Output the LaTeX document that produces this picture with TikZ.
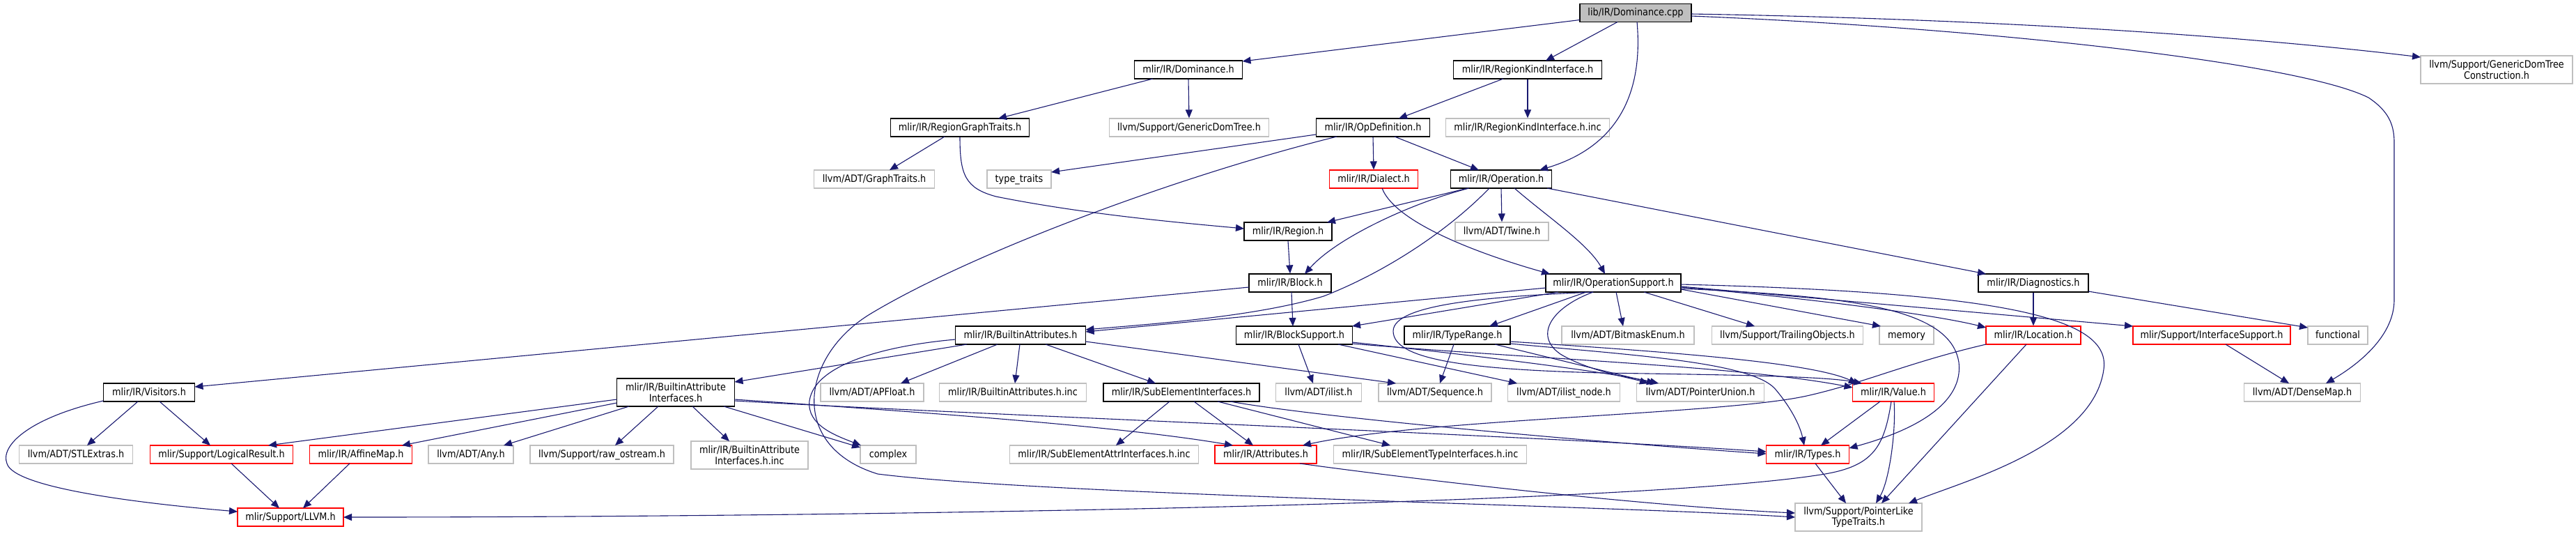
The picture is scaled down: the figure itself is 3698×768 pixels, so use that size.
\documentclass[tikz,border=0pt]{standalone}
\usepackage{fontspec}
\setmainfont{DejaVu Sans}[FakeStretch=0.88]
\usetikzlibrary{arrows.meta,calc}
\definecolor{edgeblue}{RGB}{25,25,112}
\definecolor{extgray}{RGB}{191,191,191}
\definecolor{cppfill}{RGB}{191,191,191}
\begin{document}
\begin{tikzpicture}[x=0.5pt,y=-0.5pt,
 nbox/.style={draw, line width=0.6pt, fill=white, inner sep=0pt, minimum height=13pt, font=\fontsize{7.3pt}{7.6pt}\selectfont, text height=5.4pt, text depth=1.4pt},
 nbox2/.style={draw, line width=0.6pt, fill=white, inner sep=0pt, minimum height=20pt, align=center, font=\fontsize{7.3pt}{7.6pt}\selectfont},
 doc/.style={draw=black},
 ext/.style={draw=extgray},
 trunc/.style={draw=red},
 dep/.style={draw=edgeblue, line width=0.55pt, -{Triangle[length=6pt,width=5pt]}}
]
\useasboundingbox (0,0) rectangle (3698,768);
% nodes
\node[nbox,doc,fill=cppfill,minimum width=80pt] (cpp) at (2348,18.5) {lib/IR/Dominance.cpp};
\node[nbox,doc,minimum width=77.5pt] (domh) at (1706,100) {mlir/IR/Dominance.h};
\node[nbox,doc,minimum width=106.5pt] (rki) at (2193,100) {mlir/IR/RegionKindInterface.h};
\node[nbox2,ext,minimum width=109pt] (gdtc) at (3584,100) {llvm/Support/GenericDomTree\\Construction.h};
\node[nbox,doc,minimum width=99.5pt] (rgt) at (1378,183) {mlir/IR/RegionGraphTraits.h};
\node[nbox,ext,minimum width=114.5pt] (gdt) at (1707,183) {llvm/Support/GenericDomTree.h};
\node[nbox,doc,minimum width=81.5pt] (opdef) at (1971,183) {mlir/IR/OpDefinition.h};
\node[nbox,ext,minimum width=117.5pt] (rkiinc) at (2193,183) {mlir/IR/RegionKindInterface.h.inc};
\node[nbox,ext,minimum width=86.5pt] (graph) at (1255,257) {llvm/ADT/GraphTraits.h};
\node[nbox,ext,minimum width=46pt] (tt) at (1463,257) {type\_traits};
\node[nbox,trunc,minimum width=63.5pt] (dialect) at (1972,257) {mlir/IR/Dialect.h};
\node[nbox,doc,minimum width=72.5pt] (op) at (2155,257) {mlir/IR/Operation.h};
\node[nbox,doc,minimum width=63pt] (region) at (1849,332) {mlir/IR/Region.h};
\node[nbox,ext,minimum width=67pt] (twine) at (2156,332) {llvm/ADT/Twine.h};
\node[nbox,doc,minimum width=59pt] (block) at (1852,406) {mlir/IR/Block.h};
\node[nbox,doc,minimum width=97pt] (opsup) at (2316,406) {mlir/IR/OperationSupport.h};
\node[nbox,doc,minimum width=79pt] (diag) at (2919,406) {mlir/IR/Diagnostics.h};
\node[nbox,doc,minimum width=93.5pt] (battr) at (1465,481) {mlir/IR/BuiltinAttributes.h};
\node[nbox,doc,minimum width=83.5pt] (bsup) at (1858,481) {mlir/IR/BlockSupport.h};
\node[nbox,doc,minimum width=76pt] (trange) at (2092,481) {mlir/IR/TypeRange.h};
\node[nbox,ext,minimum width=95pt] (bitmask) at (2337,481) {llvm/ADT/BitmaskEnum.h};
\node[nbox,ext,minimum width=108.5pt] (trail) at (2566,481) {llvm/Support/TrailingObjects.h};
\node[nbox,ext,minimum width=39pt] (memory) at (2737,481) {memory};
\node[nbox,trunc,minimum width=68pt] (loc) at (2919,481) {mlir/IR/Location.h};
\node[nbox,trunc,minimum width=113pt] (isup) at (3175,481) {mlir/Support/InterfaceSupport.h};
\node[nbox,ext,minimum width=43pt] (func) at (3356,481) {functional};
\node[nbox,doc,minimum width=65.5pt] (visitors) at (214,563) {mlir/IR/Visitors.h};
\node[nbox2,doc,minimum width=84.5pt] (baint) at (970,563) {mlir/IR/BuiltinAttribute\\Interfaces.h};
\node[nbox,ext,minimum width=74pt] (apfloat) at (1252,563) {llvm/ADT/APFloat.h};
\node[nbox,ext,minimum width=105.5pt] (bainc) at (1454,563) {mlir/IR/BuiltinAttributes.h.inc};
\node[nbox,doc,minimum width=112pt] (subel) at (1696,563) {mlir/IR/SubElementInterfaces.h};
\node[nbox,ext,minimum width=61.5pt] (ilist) at (1893,563) {llvm/ADT/ilist.h};
\node[nbox,ext,minimum width=81pt] (seq) at (2060,563) {llvm/ADT/Sequence.h};
\node[nbox,ext,minimum width=80.5pt] (ilistnode) at (2245,563) {llvm/ADT/ilist\_node.h};
\node[nbox,ext,minimum width=91.5pt] (punion) at (2441,563) {llvm/ADT/PointerUnion.h};
\node[nbox,trunc,minimum width=58.5pt] (value) at (2718,563) {mlir/IR/Value.h};
\node[nbox,ext,minimum width=83.5pt] (densemap) at (3305,563) {llvm/ADT/DenseMap.h};
\node[nbox,ext,minimum width=81.5pt] (stlx) at (109,652) {llvm/ADT/STLExtras.h};
\node[nbox,trunc,minimum width=102.5pt] (lres) at (318,652) {mlir/Support/LogicalResult.h};
\node[nbox,trunc,minimum width=73.5pt] (affine) at (518,652) {mlir/IR/AffineMap.h};
\node[nbox,ext,minimum width=61pt] (any) at (676,652) {llvm/ADT/Any.h};
\node[nbox,ext,minimum width=103pt] (rawos) at (864,652) {llvm/Support/raw\_ostream.h};
\node[nbox2,ext,minimum width=84pt] (baiinc) at (1076,653) {mlir/IR/BuiltinAttribute\\Interfaces.h.inc};
\node[nbox,ext,minimum width=40pt] (complex) at (1275,652) {complex};
\node[nbox,ext,minimum width=135.5pt] (seainc) at (1585,652) {mlir/IR/SubElementAttrInterfaces.h.inc};
\node[nbox,trunc,minimum width=73pt] (attrs) at (1817,652) {mlir/IR/Attributes.h};
\node[nbox,ext,minimum width=138.5pt] (setinc) at (2053,652) {mlir/IR/SubElementTypeInterfaces.h.inc};
\node[nbox,trunc,minimum width=59.5pt] (types) at (2595,652) {mlir/IR/Types.h};
\node[nbox,trunc,minimum width=76pt] (llvmh) at (417,742) {mlir/Support/LLVM.h};
\node[nbox2,ext,minimum width=91pt] (plike) at (2668,742) {llvm/Support/PointerLike\\TypeTraits.h};
% edges
\draw[dep] ($(cpp)+(-80,10)$) -- ($(domh)+(77.5,-12)$);
\draw[dep] ($(cpp)+(-26,13)$) -- ($(rki)+(26,-13)$);
\draw[dep] ($(cpp)+(2,13)$) .. controls (2357,110) and (2340,205) .. ($(op)+(55,-13)$);
\draw[dep] ($(cpp)+(80,1.5)$) .. controls (2900,28) and (3250,55) .. ($(gdtc)+(-109,-18)$);
\draw[dep] ($(cpp)+(80,4.5)$) .. controls (2850,40) and (3300,90) .. (3400,140) .. controls (3430,160) and (3437,180) .. (3437,205) -- (3437,430) .. controls (3437,480) and (3390,520) .. ($(densemap)+(34,-13)$);
\draw[dep] ($(domh)+(-51,13)$) -- ($(rgt)+(55,-13)$);
\draw[dep] (domh.south) -- (gdt.north);
\draw[dep] ($(rki)+(-35,13)$) -- ($(opdef)+(37,-13)$);
\draw[dep] (rki.south) -- (rkiinc.north);
\draw[dep] ($(rgt)+(-22,13)$) -- ($(graph)+(22,-13)$);
\draw[dep] (rgt.south) .. controls (1378,250) and (1385,270) .. (1430,282) .. controls (1560,308) and (1700,320) .. ($(region)+(-63,-4)$);
\draw[dep] ($(opdef)+(-82,10)$) -- ($(tt)+(46,-10)$);
\draw[dep] (opdef.south) -- (dialect.north);
\draw[dep] ($(opdef)+(31,13)$) -- ($(op)+(-32,-13)$);
\draw[dep] ($(opdef)+(-52,13)$) .. controls (1700,250) and (1400,360) .. (1250,450) .. controls (1150,510) and (1130,640) .. (1260,680) .. controls (1500,710) and (2300,725) .. ($(plike)+(-91,0)$);
\draw[dep] ($(op)+(-48,13)$) -- ($(region)+(56,-13)$);
\draw[dep] ($(op)+(-46,13)$) .. controls (2030,290) and (1920,340) .. ($(block)+(21,-13)$);
\draw[dep] ($(op)+(-17,13)$) .. controls (2080,330) and (1990,390) .. (1900,425) .. controls (1800,455) and (1650,465) .. ($(battr)+(93.5,-8)$);
\draw[dep] (op.south) -- (twine.north);
\draw[dep] ($(op)+(19,13)$) .. controls (2220,310) and (2280,350) .. ($(opsup)+(-12,-13)$);
\draw[dep] ($(op)+(66,13)$) -- ($(diag)+(-68,-13)$);
\draw[dep] ($(dialect)+(12,13)$) .. controls (2005,325) and (2150,372) .. ($(opsup)+(-91,-13)$);
\draw[dep] (region.south) -- (block.north);
\draw[dep] ($(block)+(2,13)$) -- ($(bsup)+(-2,-13)$);
\draw[dep] ($(block)+(-59,6)$) -- ($(visitors)+(65.5,-8)$);
\draw[dep] ($(opsup)+(-97,7)$) -- ($(battr)+(93.5,-5)$);
\draw[dep] ($(opsup)+(-79,13)$) -- ($(bsup)+(83,-13)$);
\draw[dep] ($(opsup)+(-39,13)$) -- ($(trange)+(46,-13)$);
\draw[dep] ($(opsup)+(4,13)$) -- ($(bitmask)+(-7,-13)$);
\draw[dep] ($(opsup)+(44,13)$) -- ($(trail)+(-47,-13)$);
\draw[dep] ($(opsup)+(97,9)$) -- ($(memory)+(-37,-13)$);
\draw[dep] ($(opsup)+(97,6)$) .. controls (2600,428) and (2780,452) .. ($(loc)+(-68,-11)$);
\draw[dep] ($(opsup)+(97,5)$) -- ($(isup)+(-113,-13)$);
\draw[dep] ($(opsup)+(97,2)$) .. controls (2900,420) and (3030,460) .. (3020,530) .. controls (3005,640) and (2820,690) .. ($(plike)+(72,-20)$);
\draw[dep] ($(opsup)+(97,8)$) .. controls (2650,425) and (2800,440) .. (2812,520) .. controls (2820,590) and (2720,625) .. ($(types)+(59.5,-9)$);
\draw[dep] ($(opsup)+(-29,13)$) .. controls (2150,425) and (2000,435) .. (2000,475) .. controls (2000,515) and (2100,530) .. (2300,535) .. controls (2500,538) and (2620,540) .. ($(value)+(-45,-13)$);
\draw[dep] ($(opsup)+(-29,13)$) .. controls (2230,440) and (2200,480) .. (2240,508) .. controls (2280,532) and (2340,542) .. ($(punion)+(-75,-13)$);
\draw[dep] ($(trange)+(-5,13)$) -- ($(seq)+(7,-13)$);
\draw[dep] ($(trange)+(54,13)$) -- ($(punion)+(-65,-13)$);
\draw[dep] ($(trange)+(76,9)$) .. controls (2400,505) and (2600,520) .. ($(value)+(-52,-13)$);
\draw[dep] ($(trange)+(76,12)$) .. controls (2350,510) and (2520,520) .. (2550,560) .. controls (2575,590) and (2585,615) .. ($(types)+(-5,-13)$);
\draw[dep] ($(bsup)+(6,13)$) -- ($(ilist)+(-8,-13)$);
\draw[dep] ($(bsup)+(63,13)$) -- ($(ilistnode)+(-67,-13)$);
\draw[dep] ($(bsup)+(83,10)$) .. controls (2100,508) and (2300,532) .. ($(punion)+(-60,-13)$);
\draw[dep] ($(bsup)+(83,12)$) .. controls (2200,515) and (2500,525) .. ($(value)+(-58.5,-7)$);
\draw[dep] ($(battr)+(-77,13)$) -- ($(baint)+(84.5,-15)$);
\draw[dep] ($(battr)+(-93.5,6)$) .. controls (1280,495) and (1170,520) .. (1162,575) .. controls (1158,610) and (1200,625) .. ($(complex)+(-39,-13)$);
\draw[dep] ($(battr)+(-33,13)$) -- ($(apfloat)+(41,-13)$);
\draw[dep] ($(battr)+(-1,13)$) -- ($(bainc)+(3,-13)$);
\draw[dep] ($(battr)+(36,13)$) -- ($(subel)+(-37,-13)$);
\draw[dep] ($(battr)+(93.5,9)$) -- ($(seq)+(-56,-13)$);
\draw[dep] ($(baint)+(-84.5,10)$) -- ($(lres)+(67,-13)$);
\draw[dep] ($(baint)+(-84.5,15)$) -- ($(affine)+(59,-13)$);
\draw[dep] ($(baint)+(-67,20)$) -- ($(any)+(47,-13)$);
\draw[dep] ($(baint)+(-25,20)$) -- ($(rawos)+(19,-13)$);
\draw[dep] ($(baint)+(24,20)$) -- ($(baiinc)+(-29,-20)$);
\draw[dep] ($(baint)+(69,20)$) -- ($(complex)+(-40,-10)$);
\draw[dep] ($(baint)+(84.5,10)$) .. controls (1300,590) and (1600,610) .. ($(attrs)+(-47,-13)$);
\draw[dep] ($(baint)+(84.5,12)$) .. controls (1400,595) and (2200,625) .. ($(types)+(-59.5,-4)$);
\draw[dep] ($(subel)+(-17,13)$) -- ($(seainc)+(17,-13)$);
\draw[dep] ($(subel)+(18,13)$) -- ($(attrs)+(-18,-13)$);
\draw[dep] ($(subel)+(52,13)$) -- ($(setinc)+(-57,-13)$);
\draw[dep] ($(subel)+(70,13)$) .. controls (1900,600) and (2300,635) .. ($(types)+(-59.5,-1)$);
\draw[dep] ($(loc)+(-68,13)$) .. controls (2740,520) and (2680,548) .. (2598,567) .. controls (2480,595) and (2050,600) .. ($(attrs)+(53,-13)$);
\draw[dep] ($(loc)+(-10,13)$) -- ($(plike)+(33,-20)$);
\draw[dep] (diag.south) -- (loc.north);
\draw[dep] ($(diag)+(79,12)$) -- ($(func)+(-43,-11)$);
\draw[dep] ($(isup)+(20,13)$) -- ($(densemap)+(-19,-13)$);
\draw[dep] ($(value)+(-19,13)$) -- ($(types)+(19,-13)$);
\draw[dep] ($(value)+(1,13)$) .. controls (2722,620) and (2712,690) .. ($(plike)+(25,-20)$);
\draw[dep] ($(value)+(-3,13)$) .. controls (2705,640) and (2690,668) .. (2620,680) .. controls (2350,725) and (1200,742) .. ($(llvmh)+(76,0)$);
\draw[dep] ($(types)+(11,13)$) -- ($(plike)+(-18,-20)$);
\draw[dep] ($(attrs)+(49,13)$) .. controls (2100,697) and (2400,728) .. ($(plike)+(-91,-6)$);
\draw[dep] ($(visitors)+(-16,13)$) -- ($(stlx)+(16,-13)$);
\draw[dep] ($(visitors)+(15,13)$) -- ($(lres)+(-16,-13)$);
\draw[dep] ($(visitors)+(-65.5,12)$) .. controls (40,600) and (0,640) .. (10,665) .. controls (20,700) and (200,722) .. ($(llvmh)+(-76,-8)$);
\draw[dep] ($(lres)+(14,13)$) -- ($(llvmh)+(-16,-13)$);
\draw[dep] ($(affine)+(-16,13)$) -- ($(llvmh)+(18,-13)$);
\end{tikzpicture}
\end{document}
